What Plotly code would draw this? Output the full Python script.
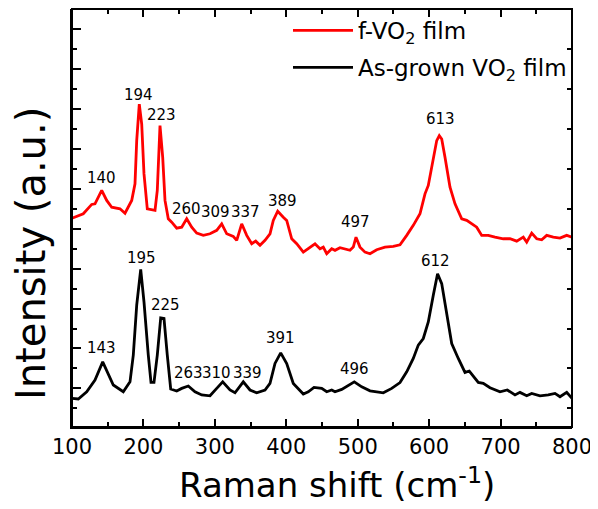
import numpy as np
import plotly.graph_objects as go

# ---------------- data ----------------
red_x = [100, 115.8, 127.6, 132.2, 141.6, 148.6, 155.6, 162.6, 167.2, 174.2,
         183.6, 188.2, 190.6, 194.2, 197.6, 200.8, 205.4, 216.2, 219.4, 223.2,
         227.0, 230.2, 234.8, 239.6, 246.6, 253.6, 260.6, 267.6, 274.6, 283.8,
         293.2, 302.6, 309.6, 316.6, 325.8, 330.6, 337.6, 344.6, 351.6, 357.2,
         363.2, 370.2, 377.2, 381.8, 388.0, 395.8, 400.6, 407.6, 414.6, 423.8,
         430.8, 440.2, 447.2, 451.8, 456.6, 463.6, 468.2, 475.2, 489.2, 493.8,
         497.6, 503.2, 510.2, 517.2, 526.6, 538.2, 549.8, 559.2, 568.6, 577.8,
         587.2, 594.2, 598.8, 605.8, 610.6, 614.2, 617.6, 622.2, 629.2, 636.2,
         645.6, 652.6, 659.6, 666.6, 673.6, 682.8, 692.2, 703.8, 713.2, 722.6,
         731.8, 736.6, 743.6, 750.6, 757.6, 764.6, 773.8, 783.2, 792.6, 800]
red_y = [9.53, 9.75, 10.22, 10.25, 10.92, 10.42, 10.08, 10.05, 10.0, 9.78,
         10.42, 11.25, 13.42, 15.25, 14.25, 11.75, 10.0, 9.92, 10.92, 14.17,
         12.58, 10.42, 9.5, 9.33, 9.03, 9.08, 9.5, 9.08, 8.78, 8.67,
         8.75, 8.92, 9.25, 8.75, 8.62, 8.42, 9.25, 8.67, 8.25, 8.38,
         8.17, 8.42, 8.75, 9.42, 9.88, 9.58, 9.42, 8.5, 8.25, 7.83,
         8.0, 8.25, 8.0, 8.08, 7.75, 8.0, 7.92, 8.05, 7.92, 8.08,
         8.58, 8.08, 7.83, 7.75, 7.95, 8.08, 8.12, 8.2, 8.67, 9.17,
         9.75, 10.75, 11.17, 12.58, 13.42, 13.67, 13.5, 12.58, 11.08, 10.25,
         9.5, 9.42, 9.25, 9.08, 8.67, 8.67, 8.58, 8.5, 8.5, 8.38,
         8.58, 8.33, 8.78, 8.5, 8.45, 8.67, 8.58, 8.53, 8.67, 8.58]

black_x = [100, 108.8, 120.6, 132.2, 143.0, 150.8, 157.8, 171.8, 181.2, 185.8,
           190.6, 196.2, 200.8, 206.8, 210.6, 214.8, 219.4, 224.2, 228.8, 233.4,
           238.2, 246.6, 253.6, 262.8, 272.2, 281.6, 293.2, 302.6, 311.0, 321.2,
           328.2, 339.8, 349.2, 358.6, 370.2, 377.2, 384.2, 392.2, 400.6, 409.8,
           423.8, 430.8, 438.8, 449.6, 456.6, 463.6, 468.2, 477.6, 486.8, 495.2,
           505.6, 517.2, 535.8, 547.6, 559.2, 568.6, 577.8, 584.8, 591.8, 598.8,
           605.8, 611.8, 617.6, 624.6, 631.6, 640.8, 650.2, 656.2, 664.2, 668.8,
           675.8, 685.2, 699.2, 709.4, 720.2, 727.2, 736.6, 743.6, 755.2, 766.8,
           776.2, 783.2, 792.6, 800]
black_y = [0.5, 0.47, 0.83, 1.42, 2.33, 1.67, 1.17, 0.83, 1.33, 2.67,
           5.17, 6.97, 5.33, 2.67, 1.3, 1.3, 2.67, 4.53, 4.5, 2.67,
           0.97, 0.87, 1.0, 1.12, 0.83, 0.67, 0.63, 1.0, 1.33, 0.92,
           0.78, 1.33, 0.92, 0.78, 0.92, 1.25, 2.25, 2.78, 2.25, 1.25,
           0.72, 0.83, 1.05, 1.0, 0.83, 0.92, 0.83, 0.95, 1.17, 1.33,
           1.08, 0.88, 0.78, 1.0, 1.29, 1.83, 2.5, 3.17, 3.5, 4.33,
           5.67, 6.75, 6.25, 4.83, 3.25, 2.5, 1.8, 1.87, 1.5, 1.3,
           1.25, 1.03, 0.83, 0.92, 0.67, 0.8, 0.63, 0.75, 0.63, 0.67,
           0.75, 0.58, 0.8, 0.5]

red_peaks = [140, 194, 223, 260, 309, 337, 389, 497, 613]
black_peaks = [143, 195, 225, 263, 310, 339, 391, 496, 612]

red_name = "f-VO<sub>2</sub> film"
black_name = "As-grown VO<sub>2</sub> film"
x_title = "Raman shift (cm<sup>-1</sup>)"
y_title = "Intensity (a.u.)"

x_ticks = [100, 200, 300, 400, 500, 600, 700, 800]

assert len(red_x) == len(red_y)
assert len(black_x) == len(black_y)

# ---------------- label placement (pixel offsets) ----------------
red_dx = [1, -1, 2, 0, -6, 4.5, 4, 0, 2]
red_dy = [11, 8, 10, 9, 11, 11, 9, 14, 16]
black_dx = [-1.5, 2, 4.5, 0, -6, 5, 1, 0, -2]
black_dy = [12.5, 10, 12, 12, 7.5, 7.5, 13.5, 12, 11.6]

FONT = "DejaVu Sans, Arial, sans-serif"

fig = go.Figure()
fig.add_trace(go.Scatter(x=red_x, y=red_y, mode="lines", name=red_name,
                         legendgroup="a",
                         line=dict(color="#ff0000", width=2.8)))
fig.add_trace(go.Scatter(x=black_x, y=black_y, mode="lines", name=black_name,
                         legendgroup="b",
                         line=dict(color="#000000", width=2.8)))
# empty helper trace so the top / right tick axes are drawn
fig.add_trace(go.Scatter(x=[], y=[], xaxis="x2", yaxis="y2", showlegend=False,
                         hoverinfo="skip"))


def peak_value(xs, ys, x0, win=6):
    grid = np.linspace(x0 - win, x0 + win, 61)
    return float(np.max(np.interp(grid, xs, ys)))


annotations = []
for peaks, xs, ys, dxs, dys in ((red_peaks, red_x, red_y, red_dx, red_dy),
                                (black_peaks, black_x, black_y, black_dx, black_dy)):
    for p, dx, dy in zip(peaks, dxs, dys):
        annotations.append(dict(
            x=p, y=peak_value(xs, ys, p), xref="x", yref="y",
            text=str(p), showarrow=False, xanchor="center", yanchor="middle",
            xshift=dx, yshift=dy + 1,
            font=dict(family=FONT, size=15, color="black")))

# axis titles placed as text to match the original's offsets
annotations.append(dict(
    x=-0.083, y=0.415, xref="paper", yref="paper", text=y_title,
    showarrow=False, textangle=-90, xanchor="center", yanchor="middle",
    font=dict(family=FONT, size=40, color="black")))
annotations.append(dict(
    x=0.53, y=-0.134, xref="paper", yref="paper", text=x_title,
    showarrow=False, xanchor="center", yanchor="middle",
    font=dict(family=FONT, size=34, color="black")))

yrange = [-0.935, 20.015]
xrange_ = [100, 800]

fig.update_layout(
    # page body adds an 8px margin; the figure fills the rest of the window
    width=590, height=502,
    margin=dict(l=64, r=26, t=1, b=83),
    paper_bgcolor="white", plot_bgcolor="white",
    font=dict(family=FONT, color="black"),
    showlegend=True,
    legend=dict(x=0.432, y=1.0, xanchor="left", yanchor="top",
                bgcolor="rgba(0,0,0,0)", borderwidth=0,
                itemwidth=60,
                font=dict(family=FONT, size=23, color="black"),
                tracegroupgap=4),
    annotations=annotations,
    shapes=[dict(type="rect", xref="paper", yref="paper", x0=0, x1=1, y0=0, y1=1,
                 line=dict(color="black", width=2), fillcolor="rgba(0,0,0,0)",
                 layer="above")],
    xaxis=dict(
        range=xrange_, tickvals=x_ticks,
        ticks="inside", ticklen=8, tickwidth=2, tickcolor="black",
        minor=dict(dtick=50, tick0=100, ticks="inside", ticklen=5,
                   tickwidth=1.5, tickcolor="black"),
        showline=True, linewidth=2, linecolor="black", mirror=False,
        showgrid=False, zeroline=False,
        tickfont=dict(family=FONT, size=21, color="black"),
    ),
    xaxis2=dict(
        range=xrange_, overlaying="x", side="top", anchor="y",
        tickvals=x_ticks, ticks="inside", ticklen=8, tickwidth=2,
        tickcolor="black",
        minor=dict(dtick=50, tick0=100, ticks="inside", ticklen=5,
                   tickwidth=1.5, tickcolor="black"),
        showline=False, showgrid=False, zeroline=False, showticklabels=False,
    ),
    yaxis=dict(
        range=yrange, tickvals=list(range(1, 20, 2)),
        ticks="inside", ticklen=9, tickwidth=2, tickcolor="black",
        minor=dict(tickvals=list(range(0, 21, 2)), ticks="inside", ticklen=5,
                   tickwidth=1.5, tickcolor="black"),
        showline=True, linewidth=2, linecolor="black", mirror=False,
        showgrid=False, zeroline=False, showticklabels=False,
    ),
    yaxis2=dict(
        range=yrange, overlaying="y", side="right", anchor="x",
        tickvals=list(range(0, 21, 2)), ticks="inside", ticklen=5,
        tickwidth=1.5, tickcolor="black",
        showline=False, showgrid=False, zeroline=False,
        showticklabels=False,
    ),
)

fig.write_html("out.html")
